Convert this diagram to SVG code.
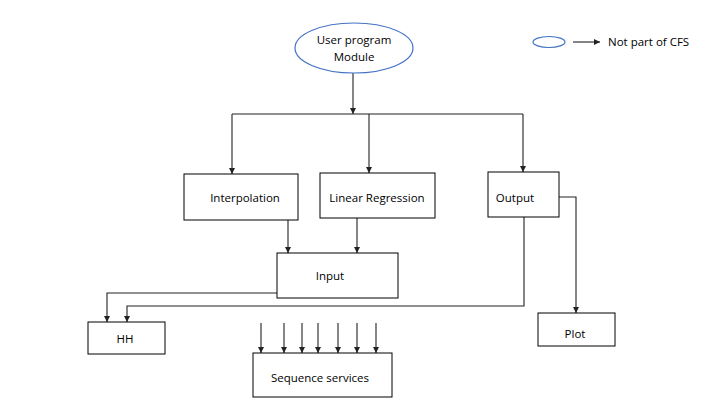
<svg xmlns="http://www.w3.org/2000/svg" width="720" height="405" viewBox="0 0 720 405">
<style>
.box{fill:#fff;stroke:#000;stroke-width:1}
.ell{fill:#fff;stroke:#4472C4;stroke-width:1.2}
.t{font-family:"Open Sans","Liberation Sans",sans-serif;font-size:11.5px;fill:#000;text-anchor:middle}
.c{fill:none;stroke:#222;stroke-width:1.1}
</style>
<defs>
<marker id="ah" viewBox="0 0 6 6" refX="6" refY="3" markerWidth="6" markerHeight="6" markerUnits="userSpaceOnUse" orient="auto">
<path d="M0,0 L6,3 L0,6 Z" fill="#222"/>
</marker>
</defs>
<rect width="720" height="405" fill="#fff"/>
<g id="connectors">
<path class="c" d="M353,73 V114" marker-end="url(#ah)"/>
<path class="c" d="M232,114 H523"/>
<path class="c" d="M232,114 V174" marker-end="url(#ah)"/>
<path class="c" d="M369,114 V173" marker-end="url(#ah)"/>
<path class="c" d="M523,114 V172" marker-end="url(#ah)"/>
<path class="c" d="M288,220 V253" marker-end="url(#ah)"/>
<path class="c" d="M357,218 V253" marker-end="url(#ah)"/>
<path class="c" d="M277,293 H107 V322" marker-end="url(#ah)"/>
<path class="c" d="M524,217 V306 H127 V322" marker-end="url(#ah)"/>
<path class="c" d="M559,197 H576 V313" marker-end="url(#ah)"/>
<path class="c" d="M261,323 V353" marker-end="url(#ah)"/>
<path class="c" d="M284,323 V353" marker-end="url(#ah)"/>
<path class="c" d="M302,323 V353" marker-end="url(#ah)"/>
<path class="c" d="M318,323 V353" marker-end="url(#ah)"/>
<path class="c" d="M338,323 V353" marker-end="url(#ah)"/>
<path class="c" d="M357,323 V353" marker-end="url(#ah)"/>
<path class="c" d="M376,323 V353" marker-end="url(#ah)"/>
<path class="c" d="M573,42 H600" marker-end="url(#ah)"/>
</g>
<g id="user-program">
<ellipse class="ell" cx="354" cy="48" rx="59" ry="25"/>
<text class="t" x="354" y="44">User program</text>
<text class="t" x="354" y="61">Module</text>
</g>
<g id="legend">
<ellipse class="ell" cx="549" cy="42" rx="16" ry="5.5"/>
<text class="t" x="608" y="46" style="text-anchor:start">Not part of CFS</text>
</g>
<g id="interpolation">
<rect class="box" x="184" y="174" width="114" height="46"/>
<text class="t" x="245" y="202">Interpolation</text>
</g>
<g id="linear-regression">
<rect class="box" x="320" y="173" width="115" height="45"/>
<text class="t" x="377" y="202">Linear Regression</text>
</g>
<g id="output">
<rect class="box" x="488" y="172" width="71" height="45"/>
<text class="t" x="515" y="202">Output</text>
</g>
<g id="input">
<rect class="box" x="277" y="253" width="121" height="45"/>
<text class="t" x="330" y="280">Input</text>
</g>
<g id="hh">
<rect class="box" x="88" y="322" width="77" height="32"/>
<text class="t" x="125" y="343">HH</text>
</g>
<g id="plot">
<rect class="box" x="538" y="313" width="77" height="33"/>
<text class="t" x="575" y="338">Plot</text>
</g>
<g id="sequence-services">
<rect class="box" x="253" y="353" width="139" height="44"/>
<text class="t" x="320" y="382">Sequence services</text>
</g>
</svg>
